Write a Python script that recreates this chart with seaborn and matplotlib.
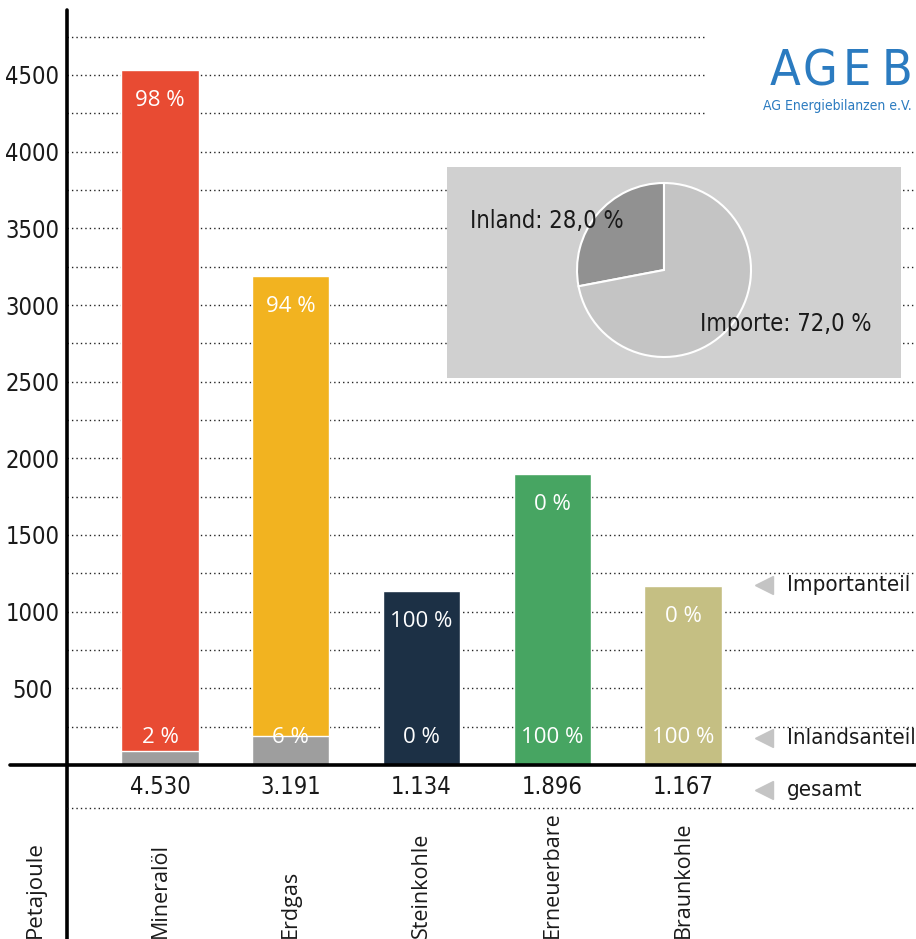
import matplotlib
matplotlib.use("Agg")
import matplotlib.pyplot as plt
import seaborn as sns
import pandas as pd
from matplotlib.lines import Line2D
from matplotlib import transforms

# data (Petajoule)
categories = ["Mineralöl", "Erdgas", "Steinkohle", "Erneuerbare", "Braunkohle"]
totals = [4530, 3191, 1134, 1896, 1167]
import_pct = [98, 94, 100, 0, 0]
inland_pct = [2, 6, 0, 100, 100]
bar_colors = ["#E84B33", "#F2B320", "#1C3045", "#47A562", "#C5BF83"]
yticks = [500, 1000, 1500, 2000, 2500, 3000, 3500, 4000, 4500]

pie_labels = ["Inland", "Importe"]
pie_values = [28.0, 72.0]
side_labels = ["Importanteil", "Inlandsanteil", "gesamt"]

sns.set_theme(style="white")
COND = ["DejaVu Sans Condensed", "DejaVu Sans"]
HUM = ["Open Sans", "DejaVu Sans"]
plt.rcParams["font.family"] = COND
plt.rcParams["font.stretch"] = "condensed"

W, H = 916, 939
def fx(x):
    return x / W
def fy(y):
    return 1 - y / H

fig = plt.figure(figsize=(W / 100, H / 100), dpi=100)
fig.patch.set_facecolor("white")

# main axes: baseline at y=765px, top at y=10px
ax = fig.add_axes([fx(67), fy(765), (W - 67) / W, (765 - 10) / H])
ax.set_facecolor("none")

# gray only where domestic share is mixed with imports
gray = [t * p / 100 if 0 < p < 100 else 0 for t, p in zip(totals, inland_pct)]
df = pd.DataFrame({"kat": categories, "gesamt": totals, "inland": gray})

sns.barplot(data=df, x="kat", y="gesamt", hue="kat", palette=bar_colors,
            width=0.59, saturation=1, errorbar=None, legend=False, ax=ax, zorder=3)
sns.barplot(data=df, x="kat", y="inland", color="#9E9E9E",
            width=0.59, saturation=1, errorbar=None, ax=ax, zorder=4)

ax.set_xlim(-0.711, 5.782)
ax.set_ylim(0, 4500 * 755 / 690)
ax.set_xlabel("")
ax.set_ylabel("")
ax.set_xticks([])
ax.set_yticks(yticks)
ax.set_yticklabels([str(t) for t in yticks], fontsize=17, color="#1a1a1a")
for lab in ax.get_yticklabels():
    lab.set_ha("center")
ax.tick_params(axis="y", length=0, pad=25)
for s in ax.spines.values():
    s.set_visible(False)

# dotted grid
for y in range(250, 4751, 250):
    xmax = 0.7515 if y >= 4250 else 1.0
    ax.axhline(y, 0, xmax, color="#222222", lw=1.0, ls=(0, (1, 2.2)), zorder=1)

# percent labels
for i in range(len(categories)):
    ax.annotate(f"{import_pct[i]} %", xy=(i, totals[i]), xytext=(0, -22),
                textcoords="offset points", ha="center", va="center",
                color="white", fontsize=16, family=HUM, stretch="normal", zorder=5)
    ax.annotate(f"{inland_pct[i]} %", xy=(i, 0), xytext=(0, 19.5),
                textcoords="offset points", ha="center", va="center",
                color="white", fontsize=16, family=HUM, stretch="normal", zorder=5)
    ax.annotate(f"{totals[i]:,}".replace(",", "."), xy=(i, 0), xytext=(0, -16),
                textcoords="offset points", ha="center", va="center",
                color="#1a1a1a", fontsize=17)

trans = transforms.blended_transform_factory(ax.transData, fig.transFigure)
for i, cat in enumerate(categories):
    ax.text(i, 1 / H, cat, rotation=90, ha="center", va="bottom",
            transform=trans, fontsize=15.5, family=HUM, stretch="normal",
            color="#1a1a1a")
fig.text(fx(35), 1 / H, "Petajoule", rotation=90, ha="center", va="bottom",
         fontsize=16, family=HUM, stretch="normal", color="#1a1a1a")

# axis lines
fig.add_artist(Line2D([fx(67), fx(67)], [fy(10), 0], color="black", lw=2.6))
fig.add_artist(Line2D([fx(10), 1], [fy(765), fy(765)], color="black", lw=2.6))
fig.add_artist(Line2D([fx(67), 1], [fy(808), fy(808)], color="#222222", lw=1.0,
                      ls=(0, (1, 2.2))))

# right side legend
for lab, y in zip(side_labels, [585, 738, 790]):
    fig.add_artist(Line2D([fx(764)], [fy(y)], marker="<", markersize=13,
                          color="#C4C4C4", ls="none"))
    fig.text(fx(787), fy(y), lab, ha="left", va="center", fontsize=16,
             color="#1a1a1a")

# inset pie
pax = fig.add_axes([fx(447), fy(378), 454 / W, 211 / H])
pax.set_facecolor("#D0D0D0")
pax.pie(pie_values, colors=["#919191", "#C4C4C4"], startangle=90,
        center=(217, 108), radius=87, frame=True,
        wedgeprops=dict(edgecolor="white", linewidth=1.5))
pax.set_xlim(0, 454)
pax.set_ylim(0, 211)
pax.set_xticks([])
pax.set_yticks([])
for s in pax.spines.values():
    s.set_visible(False)
pie_txt = [f"{l}: {v:.1f} %".replace(".", ",") for l, v in zip(pie_labels, pie_values)]
pax.text(23, 157, pie_txt[0], ha="left", va="center", fontsize=17, color="#1a1a1a")
pax.text(253, 54, pie_txt[1], ha="left", va="center", fontsize=17, color="#1a1a1a")

# logo
blue = "#2B7BC0"
for ch, x in zip("AGEB", [785, 820, 857, 897]):
    fig.text(fx(x), fy(85), ch, ha="center", va="baseline", fontsize=36, color=blue)
fig.text(fx(763), fy(110), "AG Energiebilanzen e.V.", ha="left", va="baseline",
         fontsize=10, color=blue)

fig.savefig("out.png", dpi=100)
